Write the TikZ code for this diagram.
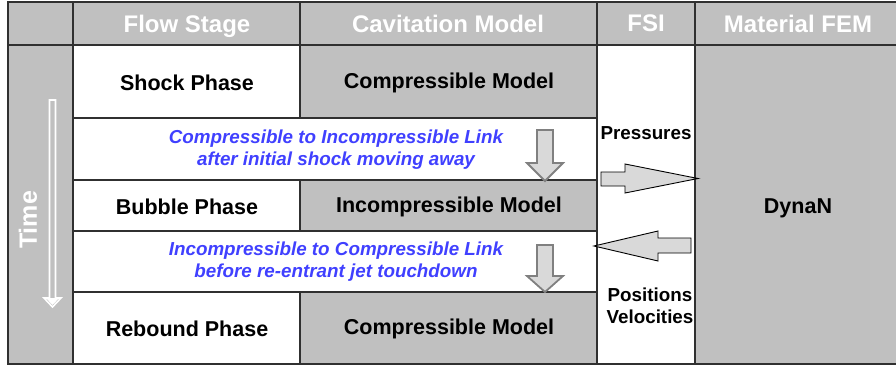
\documentclass[tikz,border=0pt]{standalone}
\usepackage{fontspec}
\setmainfont{Liberation Sans}
\definecolor{cellgray}{HTML}{C0C0C0}
\definecolor{linec}{HTML}{303030}
\definecolor{linkblue}{HTML}{4040FF}
\definecolor{arrfill}{HTML}{D9D9D9}
\definecolor{arrline}{HTML}{808080}
\begin{document}
\begin{tikzpicture}[x=1pt,y=-1pt,
  cell/.style={draw=linec,line width=1.4pt,rectangle,inner sep=0pt,outer sep=0pt,anchor=north west,align=center},
  gcell/.style={cell,fill=cellgray},
  wcell/.style={cell,fill=white},
  headtxt/.style={text=white,font=\bfseries\fontsize{24}{27}\selectfont,text depth=0pt},
  bodytxt/.style={text=black,font=\bfseries\fontsize{21.5}{25}\selectfont},
  linktxt/.style={text=linkblue,font=\bfseries\itshape\fontsize{18.8}{22}\selectfont},
  fsitxt/.style={text=black,font=\bfseries\fontsize{18.8}{22}\selectfont,inner sep=0pt},
  downarr/.style={draw=arrline,line width=1.8pt,fill=arrfill,line join=miter},
  siderarr/.style={draw=black,line width=0.9pt,fill=arrfill,line join=miter}
]
\useasboundingbox (0,0) rectangle (896,369);
% header
\node[gcell,minimum width=65pt,minimum height=43pt] (h0) at (8,2) {};
\node[gcell,minimum width=227pt,minimum height=43pt] (h1) at (73,2) {};
\node[gcell,minimum width=297pt,minimum height=43pt] (h2) at (300,2) {};
\node[gcell,minimum width=98pt,minimum height=43pt] (h3) at (597,2) {};
\node[gcell,minimum width=207pt,minimum height=43pt] (h4) at (695,2) {};
\node[headtxt] (h1t) at (187,23.5) {Flow Stage};
\node[headtxt] (h2t) at (448,23.5) {Cavitation Model};
\node[headtxt] (h3t) at (646,23.5) {FSI};
\node[headtxt] (h4t) at (798,23.5) {Material FEM};
% time column
\node[gcell,minimum width=65pt,minimum height=319pt] (t) at (8,45) {};
% rows
\node[wcell,minimum width=227pt,minimum height=73pt] (s1) at (73,45) {};
\node[gcell,minimum width=297pt,minimum height=73pt] (m1) at (300,45) {};
\node[wcell,minimum width=524pt,minimum height=62pt] (l1) at (73,118) {};
\node[wcell,minimum width=227pt,minimum height=51pt] (s2) at (73,180) {};
\node[gcell,minimum width=297pt,minimum height=51pt] (m2) at (300,180) {};
\node[wcell,minimum width=524pt,minimum height=61pt] (l2) at (73,231) {};
\node[wcell,minimum width=227pt,minimum height=72pt] (s3) at (73,292) {};
\node[gcell,minimum width=297pt,minimum height=72pt] (m3) at (300,292) {};
% texts
\node[bodytxt] (s1t) at (187,82.5) {Shock Phase};
\node[bodytxt] (m1t) at (449,82.5) {Compressible Model};
\node[linktxt,align=center] (l1t) at (336,150) {Compressible to Incompressible Link\\after initial shock moving away};
\node[bodytxt] (s2t) at (187,206.5) {Bubble Phase};
\node[bodytxt] (m2t) at (449,206.5) {Incompressible Model};
\node[linktxt,align=center] (l2t) at (336,262) {Incompressible to Compressible Link\\before re-entrant jet touchdown};
\node[bodytxt] (s3t) at (187,329) {Rebound Phase};
\node[bodytxt] (m3t) at (449,329) {Compressible Model};
% FSI and material columns
\node[wcell,minimum width=98pt,minimum height=319pt] (f) at (597,45) {};
\node[gcell,minimum width=207pt,minimum height=319pt] (d) at (695,45) {};
\node[bodytxt] (dyn) at (798,208) {DynaN};
\node[fsitxt] (pr) at (646,133) {Pressures};
\node[fsitxt,align=center] (pv) at (650,306) {Positions\\Velocities};
% time label and arrow
\node[text=white,font=\bfseries\fontsize{25}{28}\selectfont,rotate=90] (tl) at (28,220) {Time};
\draw[white,line width=1.6pt,fill=cellgray,line join=miter]
  (49.5,100) -- (55.5,100) -- (55.5,298) -- (61,298) -- (52.5,307) -- (44,298) -- (49.5,298) -- cycle;
\fill[white] (46,298) -- (59,298) -- (52.5,305) -- cycle;
% down arrows
\draw[downarr] (537,130) -- (553,130) -- (553,163) -- (563,163) -- (545,181) -- (527,163) -- (537,163) -- cycle;
\draw[downarr] (537,245) -- (553,245) -- (553,276) -- (563,276) -- (545,292) -- (527,276) -- (537,276) -- cycle;
% side arrows
\draw[siderarr] (601,172) -- (625,172) -- (625,164) -- (698,178.5) -- (625,193) -- (625,186) -- (601,186) -- cycle;
\draw[siderarr] (691,238) -- (658,238) -- (658,231) -- (594,246) -- (658,261) -- (658,253) -- (691,253) -- cycle;
\end{tikzpicture}
\end{document}
